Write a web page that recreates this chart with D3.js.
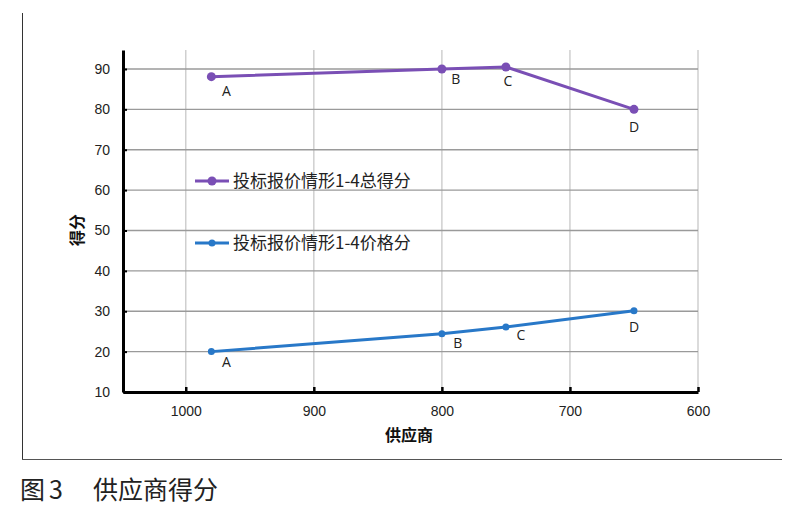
<!DOCTYPE html>
<html>
<head>
<meta charset="utf-8">
<script src="https://cdn.jsdelivr.net/npm/d3@7"></script>
<style>
  body { margin: 0; background: #fff; }
  svg { display: block; font-family: "Open Sans", "Noto Sans CJK SC", sans-serif; }
</style>
</head>
<body>
<svg id="chart" width="800" height="513"></svg>
<script>
const suppliers = ['A', 'B', 'C', 'D'];
const prices = [980, 800, 750, 650];
const totalScores = [88.1, 90.0, 90.5, 80.0];
const priceScores = [20.0, 24.4, 26.1, 30.1];
const xTicks = [1000, 900, 800, 700, 600];
const yTicks = [10, 20, 30, 40, 50, 60, 70, 80, 90];
const seriesNames = ['投标报价情形1-4总得分', '投标报价情形1-4价格分'];

const margin = { top: 50, left: 123, right: 102, bottom: 121 };
const width = 800 - margin.left - margin.right;
const height = 513 - margin.top - margin.bottom;

const svg = d3.select('#chart');
const cjk = '"Noto Sans CJK SC", sans-serif';

// outer frame (left + bottom rule)
svg.append('line').attr('x1', 22.5).attr('x2', 22.5).attr('y1', 13).attr('y2', 459)
    .attr('stroke', '#333').attr('stroke-width', 1);
svg.append('line').attr('x1', 22).attr('x2', 782).attr('y1', 459.5).attr('y2', 459.5)
    .attr('stroke', '#555').attr('stroke-width', 1.2);

const g = svg.append('g').attr('transform', `translate(${margin.left},${margin.top})`);

const x = d3.scaleLinear().domain([1049, 600]).range([0, width]);
const y = d3.scaleLinear().domain([10, 94.7]).range([height, 0]);

// grid
g.append('g').selectAll('line').data(xTicks).enter().append('line')
    .attr('x1', d => x(d)).attr('x2', d => x(d)).attr('y1', 0).attr('y2', height)
    .attr('stroke', '#cfcfcf').attr('stroke-width', 1.5);
g.append('g').selectAll('line').data(yTicks.slice(1)).enter().append('line')
    .attr('x1', 0).attr('x2', x(600)).attr('y1', d => y(d)).attr('y2', d => y(d))
    .attr('stroke', '#9a9a9a').attr('stroke-width', 1.3);

// axes
const xAxis = g.append('g').attr('transform', `translate(0,${height})`)
    .call(d3.axisBottom(x).tickValues(xTicks).tickFormat(d3.format('d'))
        .tickSizeInner(-5).tickSizeOuter(0).tickPadding(14));
xAxis.select('.domain').attr('stroke', '#000').attr('stroke-width', 3);
xAxis.selectAll('.tick line').attr('stroke', '#000').attr('stroke-width', 2.5);
xAxis.selectAll('text').attr('font-size', '14px').attr('fill', '#222');

const yAxis = g.append('g')
    .call(d3.axisLeft(y).tickValues(yTicks).tickSizeInner(-4).tickSizeOuter(0).tickPadding(13));
yAxis.select('.domain').attr('stroke', '#000').attr('stroke-width', 3);
yAxis.selectAll('.tick line').attr('stroke', '#000').attr('stroke-width', 2);
yAxis.selectAll('text').attr('font-size', '14px').attr('fill', '#222');

// axis titles
svg.append('text').attr('x', 409).attr('y', 441).attr('text-anchor', 'middle')
    .attr('font-family', cjk).attr('font-weight', 'bold').attr('font-size', '16px').attr('fill', '#111')
    .text('供应商');
svg.append('text').attr('transform', 'translate(83,230) rotate(-90)').attr('text-anchor', 'middle')
    .attr('font-family', cjk).attr('font-weight', 'bold').attr('font-size', '16px').attr('fill', '#111')
    .text('得分');

// series
const series = [
    { name: seriesNames[0], values: totalScores, color: '#7a4fb5', r: 4.5, legendY: 181,
      labelOffsets: [[15, 19], [14, 15], [2, 19], [0, 23]] },
    { name: seriesNames[1], values: priceScores, color: '#2878c8', r: 3.5, legendY: 243,
      labelOffsets: [[15, 15], [16, 14], [15, 13], [0, 21]] }
];

const line = d3.line().x(d => x(d.price)).y(d => y(d.score));

series.forEach(s => {
    const pts = prices.map((p, i) => ({ price: p, score: s.values[i], label: suppliers[i] }));
    g.append('path').datum(pts).attr('d', line)
        .attr('fill', 'none').attr('stroke', s.color).attr('stroke-width', 3);
    g.selectAll(null).data(pts).enter().append('circle')
        .attr('cx', d => x(d.price)).attr('cy', d => y(d.score)).attr('r', s.r)
        .attr('fill', s.color);
    g.selectAll(null).data(pts).enter().append('text')
        .attr('x', (d, i) => x(d.price) + s.labelOffsets[i][0])
        .attr('y', (d, i) => y(d.score) + s.labelOffsets[i][1])
        .attr('text-anchor', 'middle').attr('font-size', '14px').attr('fill', '#222')
        .text(d => d.label);

    // legend
    svg.append('line').attr('x1', 195).attr('x2', 229).attr('y1', s.legendY).attr('y2', s.legendY)
        .attr('stroke', s.color).attr('stroke-width', 3);
    svg.append('circle').attr('cx', 212).attr('cy', s.legendY).attr('r', s.r).attr('fill', s.color);
    svg.append('text').attr('x', 233).attr('y', s.legendY + 6)
        .attr('font-family', cjk).attr('font-size', '17px').attr('fill', '#222')
        .text(s.name);
});

// caption
const cap = svg.append('text').attr('y', 499)
    .attr('font-family', cjk).attr('font-size', '25px').attr('fill', '#222');
cap.append('tspan').attr('x', 20).text('图');
cap.append('tspan').attr('x', 49).text('3');
cap.append('tspan').attr('x', 93).text('供应商得分');
</script>
</body>
</html>
